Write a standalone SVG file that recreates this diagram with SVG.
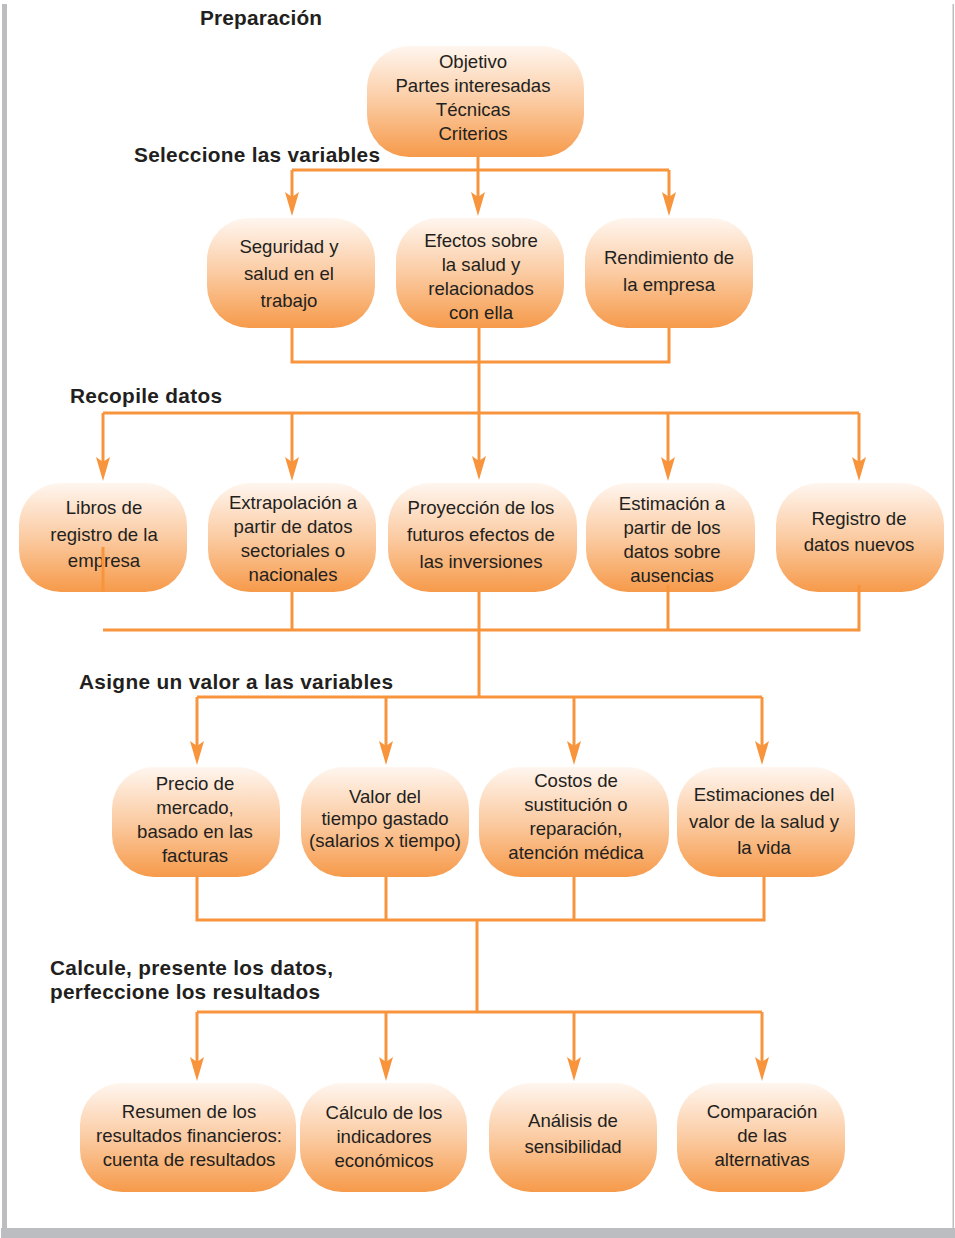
<svg xmlns="http://www.w3.org/2000/svg" width="955" height="1238" viewBox="0 0 955 1238">
<defs>
<linearGradient id="g" x1="0" y1="0" x2="0" y2="1">
<stop offset="0" stop-color="#fff6ef"/>
<stop offset="0.5" stop-color="#fbcba2"/>
<stop offset="1" stop-color="#f69a4a"/>
</linearGradient>
<marker id="ah" viewBox="0 0 24 14" refX="14" refY="7" markerWidth="24" markerHeight="14" markerUnits="userSpaceOnUse" orient="auto">
<path d="M0,0 L24,7 L0,14 L5,7 z" fill="#f7943c"/>
</marker>
<style>
.n{fill:url(#g);}
.t{font-family:"Liberation Sans",Arial,sans-serif;font-size:18.6px;fill:#231f20;text-anchor:middle;}
.h{font-family:"Liberation Sans",Arial,sans-serif;font-size:20.8px;font-weight:bold;fill:#231f20;}
.c{stroke:#f7943c;stroke-width:3;fill:none;}
.a{marker-end:url(#ah);}
</style>
</defs>
<rect x="0" y="0" width="955" height="1238" fill="#fff"/>
<g id="frame">
<rect x="2" y="4" width="5" height="1226" fill="#bcbdc0"/>
<rect x="952.5" y="4" width="1.5" height="1226" fill="#bcbdc0"/>
<rect x="1" y="1228" width="954" height="10" fill="#bcbdc0"/>
</g>
<g id="headings">
<text class="h" x="200" y="25" textLength="122">Preparación</text>
<text class="h" x="134" y="162" textLength="246">Seleccione las variables</text>
<text class="h" x="70" y="403" textLength="152">Recopile datos</text>
<text class="h" x="79" y="689" textLength="314">Asigne un valor a las variables</text>
<text class="h" x="50" y="975" textLength="283">Calcule, presente los datos,</text>
<text class="h" x="50" y="999" textLength="270">perfeccione los resultados</text>
</g>
<g id="nodes">
<g id="n-top"><rect class="n" x="367" y="46" width="217" height="111" rx="42"/>
<text class="t" x="473" y="68">Objetivo</text><text class="t" x="473" y="92">Partes interesadas</text><text class="t" x="473" y="116">Técnicas</text><text class="t" x="473" y="140">Criterios</text></g>
<g id="n-seguridad"><rect class="n" x="207" y="218" width="168" height="110" rx="42"/>
<text class="t" x="289" y="253">Seguridad y</text><text class="t" x="289" y="280">salud en el</text><text class="t" x="289" y="307">trabajo</text></g>
<g id="n-efectos"><rect class="n" x="396" y="218" width="168" height="110" rx="42"/>
<text class="t" x="481" y="247">Efectos sobre</text><text class="t" x="481" y="271">la salud y</text><text class="t" x="481" y="295">relacionados</text><text class="t" x="481" y="319">con ella</text></g>
<g id="n-rendimiento"><rect class="n" x="585" y="218" width="168" height="110" rx="42"/>
<text class="t" x="669" y="264">Rendimiento de</text><text class="t" x="669" y="291">la empresa</text></g>
<g id="n-libros"><rect class="n" x="19" y="483" width="168" height="109" rx="42"/>
<text class="t" x="104" y="514">Libros de</text><text class="t" x="104" y="541">registro de la</text><text class="t" x="104" y="567">empresa</text></g>
<g id="n-extrapolacion"><rect class="n" x="208" y="483" width="168" height="109" rx="42"/>
<text class="t" x="293" y="509">Extrapolación a</text><text class="t" x="293" y="533">partir de datos</text><text class="t" x="293" y="557">sectoriales o</text><text class="t" x="293" y="581">nacionales</text></g>
<g id="n-proyeccion"><rect class="n" x="388" y="483" width="189" height="109" rx="42"/>
<text class="t" x="481" y="514">Proyección de los</text><text class="t" x="481" y="541">futuros efectos de</text><text class="t" x="481" y="568">las inversiones</text></g>
<g id="n-estimacion"><rect class="n" x="586" y="483" width="169" height="109" rx="42"/>
<text class="t" x="672" y="510">Estimación a</text><text class="t" x="672" y="534">partir de los</text><text class="t" x="672" y="558">datos sobre</text><text class="t" x="672" y="582">ausencias</text></g>
<g id="n-registro"><rect class="n" x="776" y="483" width="168" height="109" rx="42"/>
<text class="t" x="859" y="525">Registro de</text><text class="t" x="859" y="551">datos nuevos</text></g>
<g id="n-precio"><rect class="n" x="112" y="767" width="168" height="110" rx="42"/>
<text class="t" x="195" y="790">Precio de</text><text class="t" x="195" y="814">mercado,</text><text class="t" x="195" y="838">basado en las</text><text class="t" x="195" y="862">facturas</text></g>
<g id="n-valor"><rect class="n" x="301" y="767" width="168" height="110" rx="42"/>
<text class="t" x="385" y="803">Valor del</text><text class="t" x="385" y="825">tiempo gastado</text><text class="t" x="385" y="847">(salarios x tiempo)</text></g>
<g id="n-costos"><rect class="n" x="479" y="767" width="190" height="110" rx="42"/>
<text class="t" x="576" y="787">Costos de</text><text class="t" x="576" y="811">sustitución o</text><text class="t" x="576" y="835">reparación,</text><text class="t" x="576" y="859">atención médica</text></g>
<g id="n-estimaciones"><rect class="n" x="677" y="767" width="178" height="110" rx="42"/>
<text class="t" x="764" y="801">Estimaciones del</text><text class="t" x="764" y="828">valor de la salud y</text><text class="t" x="764" y="854">la vida</text></g>
<g id="n-resumen"><rect class="n" x="80" y="1083" width="216" height="109" rx="42"/>
<text class="t" x="189" y="1118">Resumen de los</text><text class="t" x="189" y="1142">resultados financieros:</text><text class="t" x="189" y="1166">cuenta de resultados</text></g>
<g id="n-calculo"><rect class="n" x="300" y="1083" width="167" height="109" rx="42"/>
<text class="t" x="384" y="1119">Cálculo de los</text><text class="t" x="384" y="1143">indicadores</text><text class="t" x="384" y="1167">económicos</text></g>
<g id="n-analisis"><rect class="n" x="489" y="1083" width="168" height="109" rx="42"/>
<text class="t" x="573" y="1127">Análisis de</text><text class="t" x="573" y="1153">sensibilidad</text></g>
<g id="n-comparacion"><rect class="n" x="677" y="1083" width="168" height="109" rx="42"/>
<text class="t" x="762" y="1118">Comparación</text><text class="t" x="762" y="1142">de las</text><text class="t" x="762" y="1166">alternativas</text></g>
</g>
<g id="connectors">
<path class="c a" d="M478,157 V206"/>
<path class="c" d="M292,170 H669"/>
<path class="c a" d="M292,170 V206"/>
<path class="c a" d="M669,170 V206"/>
<path class="c" d="M292,328 V362 H669 V328"/>
<path class="c a" d="M479,328 V470"/>
<path class="c" d="M103,413 H859"/>
<path class="c a" d="M103,413 V471"/>
<path class="c a" d="M292,413 V471"/>
<path class="c a" d="M668,413 V471"/>
<path class="c a" d="M859,413 V471"/>
<path class="c" d="M103,547 V592"/>
<path class="c" d="M103,630 H859 V585"/>
<path class="c" d="M292,592 V630"/>
<path class="c" d="M668,585 V630"/>
<path class="c" d="M479,592 V697"/>
<path class="c" d="M197,697 H762"/>
<path class="c a" d="M197,697 V755"/>
<path class="c a" d="M386,697 V755"/>
<path class="c a" d="M574,697 V755"/>
<path class="c a" d="M762,697 V755"/>
<path class="c" d="M197,877 V920 H764 V877"/>
<path class="c" d="M386,877 V920"/>
<path class="c" d="M574,877 V920"/>
<path class="c" d="M477,920 V1012"/>
<path class="c" d="M197,1012 H762"/>
<path class="c a" d="M197,1012 V1071"/>
<path class="c a" d="M386,1012 V1071"/>
<path class="c a" d="M574,1012 V1071"/>
<path class="c a" d="M762,1012 V1071"/>
</g>
</svg>
